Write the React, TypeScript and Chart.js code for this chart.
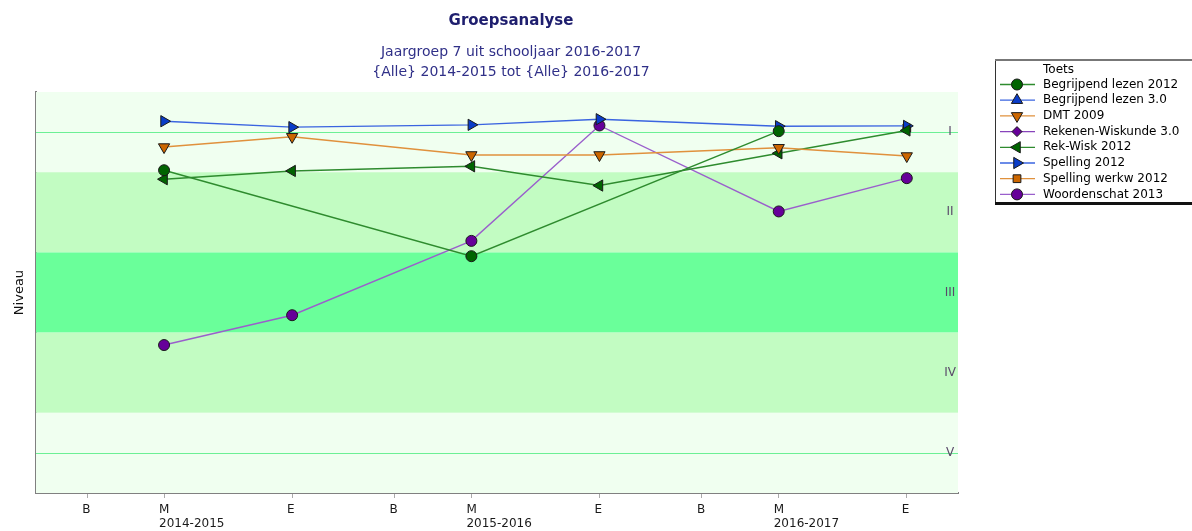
import React, { useEffect, useRef } from 'react';
import { Chart, registerables } from 'chart.js';
import { drawPoint } from 'chart.js/helpers';

Chart.register(...registerables);

// ---- data ----
const periodLabels = ['B', 'M', 'E', 'B', 'M', 'E', 'B', 'M', 'E'];
const periodMonths = [0, 3, 8, 12, 15, 20, 24, 27, 32];
const yearLabels = ['', '2014-2015', '', '', '2015-2016', '', '', '2016-2017', ''];
const levelLabels = ['I', 'II', 'III', 'IV', 'V'];
const levelValues = [1, 2, 3, 4, 5];
const measureMonths = [3, 8, 15, 20, 27, 32]; // M, E per school year

const begrijpendLezen2012 = [1.475, null, 2.547, null, 0.988, null];
const begrijpendLezen30 = [null, null, null, null, null, null];
const dmt2009 = [1.186, 1.058, 1.285, 1.285, 1.195, 1.298];
const rekenenWiskunde30 = [null, null, null, null, null, null];
const rekWisk2012 = [1.587, 1.484, 1.426, 1.666, 1.264, 0.979];
const spelling2012 = [0.864, 0.938, 0.909, 0.839, 0.926, 0.922];
const spellingWerkw2012 = [null, null, null, null, null, 0.95];
const woordenschat2013 = [3.655, 3.283, 2.356, 0.917, 1.989, 1.574];

const FONT = '"DejaVu Sans", Verdana, sans-serif';

function pts(values: (number | null)[]) {
  const out: { x: number; y: number }[] = [];
  values.forEach((v, i) => {
    if (v !== null) out.push({ x: measureMonths[i], y: v });
  });
  return out;
}

function series(label: string, values: (number | null)[], line: string, fill: string, style: string, rotation: number, radius: number) {
  return {
    label,
    data: pts(values),
    borderColor: line,
    borderWidth: 1.4,
    pointStyle: style,
    pointRotation: rotation,
    pointRadius: radius,
    pointBackgroundColor: fill,
    pointBorderColor: '#1a1a1a',
    pointBorderWidth: 1,
    fill: false,
    tension: 0,
  };
}

const bandColors = ['#f0fff0', '#c2fcc2', '#6aff9a', '#c2fcc2', '#f0fff0'];

const bandsPlugin = {
  id: 'bands',
  beforeDatasetsDraw(chart: any) {
    const { ctx, chartArea, scales } = chart;
    const y = scales.y;
    ctx.save();
    levelValues.forEach((v, i) => {
      const top = y.getPixelForValue(v - 0.5);
      const bot = y.getPixelForValue(v + 0.5);
      ctx.fillStyle = bandColors[i];
      ctx.fillRect(chartArea.left, Math.min(top, bot), chartArea.right - chartArea.left, Math.abs(bot - top));
    });
    ctx.strokeStyle = '#6cf095';
    ctx.lineWidth = 1.2;
    [levelValues[0], levelValues[levelValues.length - 1]].forEach((v) => {
      const py = Math.round(y.getPixelForValue(v)) + 0.5;
      ctx.beginPath();
      ctx.moveTo(chartArea.left, py);
      ctx.lineTo(chartArea.right, py);
      ctx.stroke();
    });
    ctx.font = '12px ' + FONT;
    ctx.textAlign = 'center';
    ctx.textBaseline = 'middle';
    ctx.fillStyle = '#5a4a6a';
    levelValues.forEach((v, i) => {
      ctx.fillText(levelLabels[i], chartArea.right - 8, y.getPixelForValue(v));
    });
    ctx.restore();
  },
};

const legendPlugin = {
  id: 'boxLegend',
  afterDraw(chart: any) {
    const { ctx } = chart;
    const x0 = 995, y0 = 59, w = 205, h = 144;
    ctx.save();
    ctx.fillStyle = '#ffffff';
    ctx.fillRect(x0, y0, w, h);
    ctx.strokeStyle = '#333';
    ctx.lineWidth = 1;
    ctx.strokeRect(x0 + 0.5, y0 + 0.5, w, h);
    ctx.fillStyle = '#777';
    ctx.fillRect(x0, y0, w, 2);
    ctx.fillStyle = '#111';
    ctx.fillRect(x0, y0 + h - 1, w, 3);
    ctx.font = '12px ' + FONT;
    ctx.textBaseline = 'middle';
    ctx.textAlign = 'left';
    ctx.fillStyle = '#000';
    ctx.fillText('Toets', 1043, 70);
    chart.data.datasets.forEach((ds: any, i: number) => {
      const yy = 84.5 + i * 15.7;
      ctx.strokeStyle = ds.borderColor;
      ctx.lineWidth = 1.3;
      ctx.beginPath();
      ctx.moveTo(1000, yy);
      ctx.lineTo(1035, yy);
      ctx.stroke();
      ctx.fillStyle = ds.pointBackgroundColor;
      ctx.strokeStyle = ds.pointBorderColor;
      ctx.lineWidth = 1;
      drawPoint(ctx, { pointStyle: ds.pointStyle, rotation: ds.pointRotation, radius: ds.pointRadius, borderWidth: 1 }, 1017, yy);
      ctx.fillStyle = '#000';
      ctx.fillText(ds.label, 1043, yy);
    });
    ctx.restore();
  },
};

export default function App() {
  const ref = useRef<HTMLCanvasElement>(null);
  useEffect(() => {
    document.body.style.margin = '0';
    const canvas = ref.current!;
    const chart = new Chart(canvas, {
      type: 'line',
      data: {
        datasets: [
          series('Begrijpend lezen 2012', begrijpendLezen2012, '#2e8b2e', '#006400', 'circle', 0, 5.5),
          series('Begrijpend lezen 3.0', begrijpendLezen30, '#3a64e0', '#0a3cc8', 'triangle', 0, 6.5),
          series('DMT 2009', dmt2009, '#e0913c', '#cc6600', 'triangle', 180, 6.5),
          series('Rekenen-Wiskunde 3.0', rekenenWiskunde30, '#8844bb', '#660099', 'rectRot', 0, 5),
          series('Rek-Wisk 2012', rekWisk2012, '#2e8b2e', '#006400', 'triangle', 270, 6.5),
          series('Spelling 2012', spelling2012, '#3a64e0', '#0a3cc8', 'triangle', 90, 6.5),
          series('Spelling werkw 2012', spellingWerkw2012, '#e0913c', '#cc6600', 'rect', 0, 5.5),
          series('Woordenschat 2013', woordenschat2013, '#9a5fcc', '#660099', 'circle', 0, 5.5),
        ] as any,
      },
      options: {
        responsive: false,
        animation: false,
        layout: { padding: { left: 0, right: 170, top: 0, bottom: -5 } },
        plugins: {
          legend: { display: false },
          tooltip: { enabled: false },
          title: {
            display: true,
            text: 'Groepsanalyse',
            color: '#1e1e6e',
            fullSize: true,
            font: { family: FONT, size: 15, weight: 'bold', lineHeight: 1.2 },
            padding: { top: 12, bottom: 4 },
          },
          subtitle: {
            display: true,
            text: ['Jaargroep 7 uit schooljaar 2016-2017', '{Alle} 2014-2015 tot {Alle} 2016-2017'],
            color: '#303088',
            fullSize: true,
            font: { family: FONT, size: 14, lineHeight: 1.43 },
            padding: { top: 8, bottom: 10 },
          },
        },
        scales: {
          x: {
            type: 'linear',
            position: 'bottom',
            min: -2,
            max: 34,
            grid: { display: true, drawOnChartArea: false, drawTicks: true, tickLength: 5, color: '#aaaaaa' },
            border: { display: true, color: '#808080', width: 2 },
            afterBuildTicks: (s: any) => { s.ticks = periodMonths.map((v) => ({ value: v })); },
            ticks: {
              autoSkip: false,
              maxRotation: 0,
              align: 'start',
              labelOffset: -5,
              padding: 5.5,
              color: '#1a1a1a',
              font: { family: FONT, size: 12, lineHeight: 1.125 },
              callback: (_v: any, i: number) => (yearLabels[i] ? [periodLabels[i], yearLabels[i]] : periodLabels[i]),
            },
          },
          y: {
            type: 'linear',
            position: 'left',
            min: 0.5,
            max: 5.5,
            reverse: true,
            grid: { display: false, drawTicks: false },
            border: { display: true, color: '#808080', width: 2 },
            ticks: { display: false },
            title: { display: true, text: 'Niveau', color: '#111', font: { family: FONT, size: 13 }, padding: { top: 12, bottom: 0 } },
            afterFit: (s: any) => { s.width = 36; },
          },
          y2: {
            type: 'linear',
            position: 'right',
            min: 0.5,
            max: 5.5,
            reverse: true,
            grid: { display: false, drawTicks: false },
            border: { display: false },
            ticks: { display: false },
            afterFit: (s: any) => { s.width = 64; },
          },
        },
      } as any,
      plugins: [bandsPlugin, legendPlugin],
    });
    return () => chart.destroy();
  }, []);
  return (
    <div style={{ width: 1192, height: 531 }}>
      <canvas ref={ref} width={1192} height={531} style={{ display: 'block' }} />
    </div>
  );
}
